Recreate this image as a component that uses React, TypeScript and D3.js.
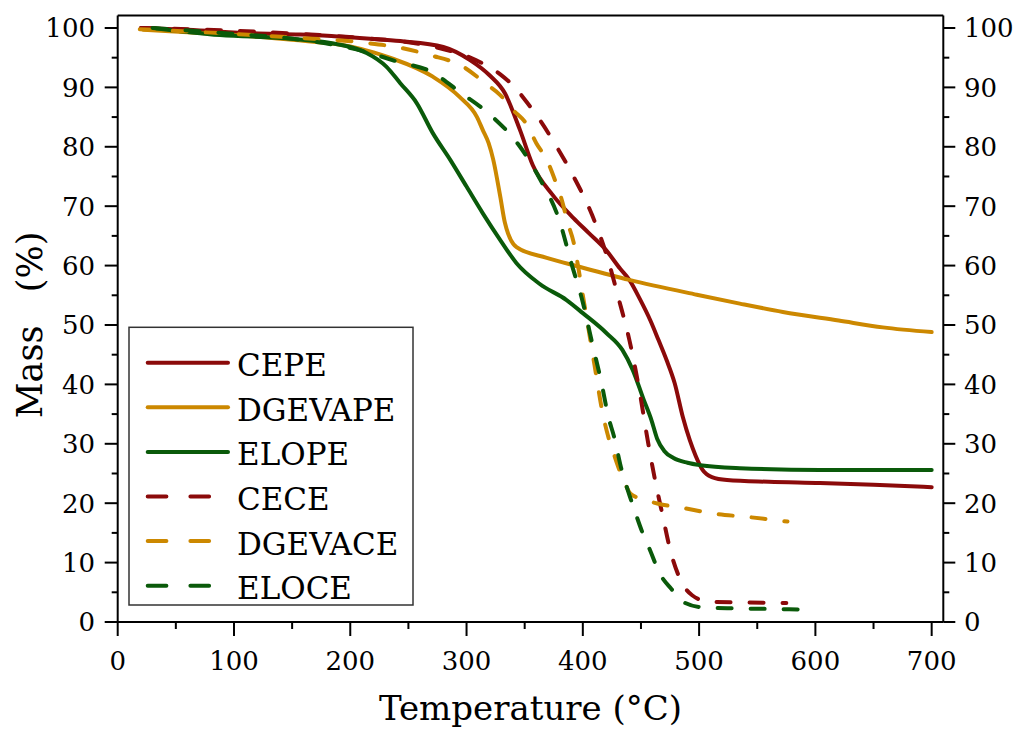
import React from "react";
import * as d3 from "d3";

const xTickValues = [0, 100, 200, 300, 400, 500, 600, 700];
const xMinorTicks = [50, 150, 250, 350, 450, 550, 650];
const yTickValues = [0, 10, 20, 30, 40, 50, 60, 70, 80, 90, 100];
const yMinorTicks = [5, 15, 25, 35, 45, 55, 65, 75, 85, 95];

const cepeT = [20, 60, 117, 157, 217, 243, 280, 303, 320, 333, 346, 357, 374, 392, 405, 420, 432, 440, 449, 458, 465, 472, 479, 486, 492, 497, 503, 511, 524, 560, 604, 650, 700];
const cepeM = [100, 99.7, 99.1, 98.9, 98.2, 97.8, 96.8, 94.6, 92.0, 89.0, 82.8, 76.9, 71.9, 68.0, 65.5, 62.6, 59.5, 57.6, 54.4, 50.8, 47.5, 44.1, 40.2, 34.5, 30.6, 28.0, 25.6, 24.4, 23.9, 23.6, 23.4, 23.1, 22.7];

const dgevapeT = [22, 60, 100, 150, 200, 220, 234, 271, 294, 309, 314, 319, 323, 329, 333, 343, 369, 397, 440, 498, 535, 572, 620, 658, 700];
const dgevapeM = [99.7, 99.3, 98.8, 98.0, 96.9, 95.9, 95.0, 91.8, 88.4, 85.0, 82.8, 80.6, 77.8, 71.6, 67.2, 63.1, 61.3, 59.8, 57.6, 55.1, 53.6, 52.2, 50.75, 49.6, 48.8];

const elopeT = [30, 88, 150, 200, 214, 231, 243, 257, 271, 286, 300, 314, 329, 343, 363, 386, 400, 420, 434, 443, 452, 459, 464, 470, 478, 490, 501, 535, 604, 700];
const elopeM = [100, 98.8, 98.2, 96.8, 95.8, 93.5, 90.7, 87.4, 82.3, 77.8, 73.3, 68.8, 64.3, 60.4, 56.9, 54.2, 52.0, 48.7, 45.8, 42.4, 37.6, 34.0, 30.8, 28.8, 27.6, 26.8, 26.4, 25.9, 25.6, 25.6];

const ceceT = [20, 157, 217, 250, 283, 300, 314, 329, 342, 353, 362, 376, 392, 408, 421, 431, 440, 449, 455, 462, 468, 476, 485, 494, 509, 540, 575];
const ceceM = [100, 99.0, 98.2, 97.6, 96.3, 95.3, 94.0, 92.2, 89.9, 87.2, 84.8, 80.5, 75.0, 68.5, 61.4, 54.3, 47.5, 38.6, 31.5, 24.0, 18.5, 11.5, 6.7, 4.5, 3.4, 3.3, 3.2];

const dgevaceT = [19, 100, 150, 213, 245, 269, 296, 318, 329, 340, 352, 360, 369, 376, 382, 387, 392, 396, 400, 405, 410, 417, 422, 427, 432, 437, 441, 451, 465, 486, 514, 541, 576];
const dgevaceM = [99.8, 99.0, 98.4, 97.5, 96.6, 95.4, 93.6, 90.4, 88.7, 86.2, 83.7, 80.6, 77.8, 74.4, 71.0, 67.2, 64.0, 59.8, 55.0, 49.2, 43.3, 35.2, 31.1, 28.1, 25.3, 23.0, 21.6, 20.7, 19.9, 19.2, 18.2, 17.7, 16.9];

const eloceT = [30, 100, 150, 213, 241, 269, 295, 322, 346, 363, 380, 390, 400, 408, 416, 422, 427, 433, 439, 445, 451, 458, 466, 476, 488, 502, 530, 560, 592];
const eloceM = [100, 99.0, 98.2, 96.0, 94.3, 92.7, 89.1, 85.1, 80.0, 74.6, 67.5, 60.5, 53.8, 47.0, 40.3, 34.5, 31.1, 25.9, 22.0, 18.5, 15.2, 12.0, 8.2, 5.6, 3.2, 2.5, 2.3, 2.2, 2.1];

const seriesNames = ["CEPE", "DGEVAPE", "ELOPE", "CECE", "DGEVACE", "ELOCE"];
const seriesT = [cepeT, dgevapeT, elopeT, ceceT, dgevaceT, eloceT];
const seriesM = [cepeM, dgevapeM, elopeM, ceceM, dgevaceM, eloceM];
const seriesColors = ["#8B0A0A", "#CC8800", "#0A5A0A", "#8B0A0A", "#CC8800", "#0A5A0A"];
const seriesDashed = [false, false, false, true, true, true];

const FONT = "'DejaVu Serif', 'Liberation Serif', serif";

export default function App() {
  const W = 1021;
  const H = 729;
  const x = d3.scaleLinear().domain([0, 710]).range([117.7, 943.3]);
  const y = d3.scaleLinear().domain([0, 102.1]).range([622, 15.5]);
  const [x0, x1] = x.range();
  const [yb, yt] = y.range();

  const line = d3
    .line<[number, number]>()
    .x((d) => x(d[0]))
    .y((d) => y(d[1]))
    .curve(d3.curveMonotoneX);

  const legX = 129;
  const legY = 327.3;
  const legW = 284;
  const legH = 277.7;

  return (
    <svg
      width={W}
      height={H}
      style={{ position: "absolute", left: 0, top: 0, background: "#fff" }}
      fontFamily={FONT}
    >
      <rect x={0} y={0} width={W} height={H} fill="#fff" />
      <g fill="none" strokeWidth={4} strokeLinecap="round" strokeLinejoin="round">
        {seriesNames.map((name, i) => {
          const pts: [number, number][] = seriesT[i].map((t, k) => [t, seriesM[i][k]]);
          return (
            <path
              key={name}
              d={line(pts) || ""}
              stroke={seriesColors[i]}
              strokeDasharray={seriesDashed[i] ? "14 19" : undefined}
            />
          );
        })}
      </g>

      <g stroke="#000" strokeWidth={2} fill="none">
        <line x1={x0} x2={x1} y1={yt} y2={yt} />
        <line x1={x0} x2={x1} y1={yb} y2={yb} />
        <line x1={x0} x2={x0} y1={yt} y2={yb} />
        <line x1={x1} x2={x1} y1={yt} y2={yb} />
        {xTickValues.map((v) => (
          <line key={"xt" + v} x1={x(v)} x2={x(v)} y1={yb} y2={yb + 14} />
        ))}
        {xMinorTicks.map((v) => (
          <line key={"xm" + v} x1={x(v)} x2={x(v)} y1={yb} y2={yb + 7} />
        ))}
        {yTickValues.map((v) => (
          <g key={"yt" + v}>
            <line x1={x0 - 13} x2={x0} y1={y(v)} y2={y(v)} />
            <line x1={x1} x2={x1 + 12} y1={y(v)} y2={y(v)} />
          </g>
        ))}
        {yMinorTicks.map((v) => (
          <g key={"ym" + v}>
            <line x1={x0 - 6} x2={x0} y1={y(v)} y2={y(v)} />
            <line x1={x1} x2={x1 + 6} y1={y(v)} y2={y(v)} />
          </g>
        ))}
      </g>

      <g fontSize={26} fill="#000">
        {xTickValues.map((v) => (
          <text key={"xl" + v} x={x(v)} y={670} textAnchor="middle">
            {v}
          </text>
        ))}
        {yTickValues.map((v) => (
          <text key={"yl" + v} x={95} y={y(v)} dy="0.36em" textAnchor="end">
            {v}
          </text>
        ))}
        {yTickValues.map((v) => (
          <text key={"yr" + v} x={964} y={y(v)} dy="0.36em" textAnchor="start">
            {v}
          </text>
        ))}
      </g>

      <text x={(x0 + x1) / 2} y={720} fontSize={34} textAnchor="middle" fill="#000">
        Temperature (°C)
      </text>
      <text
        transform={`translate(42, 325) rotate(-90)`}
        fontSize={35}
        textAnchor="middle"
        fill="#000"
        style={{ whiteSpace: "pre" }}
      >
        {"Mass   (%)"}
      </text>

      <rect x={legX} y={legY} width={legW} height={legH} fill="#fff" stroke="#333" strokeWidth={1.5} />
      {seriesNames.map((name, i) => {
        const ly = 362.7 + i * 44.6;
        return (
          <g key={"leg" + name}>
            <line
              x1={147.7}
              x2={228}
              y1={ly}
              y2={ly}
              stroke={seriesColors[i]}
              strokeWidth={4}
              strokeLinecap="round"
              strokeDasharray={seriesDashed[i] ? "18.7 24" : undefined}
            />
            <text x={237} y={ly + 13.5} fontSize={31} fill="#000">
              {name}
            </text>
          </g>
        );
      })}
    </svg>
  );
}
